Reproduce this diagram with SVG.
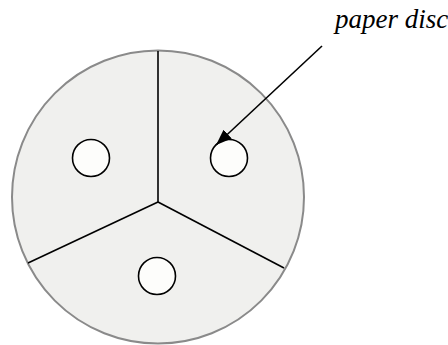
<svg xmlns="http://www.w3.org/2000/svg" width="448" height="345" viewBox="0 0 448 345">
<defs>
<style>
.sec{stroke:#000;stroke-width:1.6;fill:none}
.hole{fill:#fdfdfb;stroke:#000;stroke-width:1.6}
.lbl{font-family:'Liberation Serif','Times New Roman',serif;font-style:italic;font-size:27px;fill:#000}
</style>
<marker id="ah2" viewBox="0 0 16 12" refX="16" refY="6" markerWidth="16" markerHeight="12" markerUnits="userSpaceOnUse" orient="auto">
<path d="M0,0 L16,6 L0,12 z" fill="#000"/>
</marker>
</defs>
<rect width="448" height="345" fill="#fff"/>
<g id="plate">
<ellipse cx="158" cy="197" rx="146" ry="146.5" fill="#f0f0ee" stroke="#8a8a8a" stroke-width="2"/>
</g>
<g id="dividers">
<line class="sec" x1="158" y1="51" x2="158" y2="202"/>
<line class="sec" x1="158" y1="202" x2="28" y2="263"/>
<line class="sec" x1="158" y1="202" x2="284" y2="268"/>
</g>
<g id="disc-left"><circle class="hole" cx="91" cy="158" r="18.5"/></g>
<g id="disc-right"><circle class="hole" cx="229" cy="158" r="18.5"/></g>
<g id="disc-bottom"><circle class="hole" cx="157" cy="276" r="18.5"/></g>
<g id="label"><text class="lbl" x="335" y="28" font-family="Liberation Serif, serif">paper disc</text></g>
<g id="connectors">
<line x1="322" y1="46" x2="216" y2="145" stroke="#000" stroke-width="1.6" marker-end="url(#ah2)"/>
</g>
</svg>
